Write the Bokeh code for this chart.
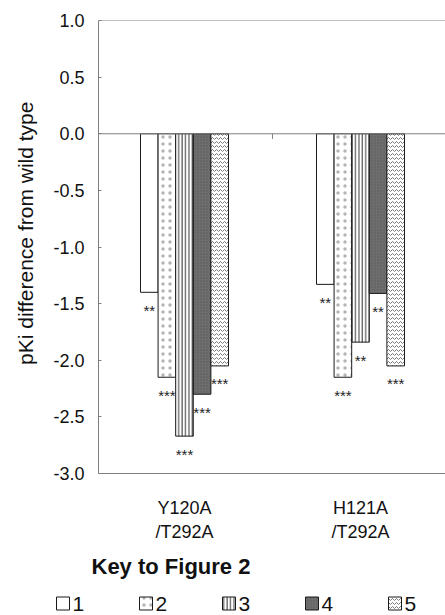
import math
from bokeh.plotting import figure
from bokeh.models import Range1d, FixedTicker, PrintfTickFormatter, Span, ColumnDataSource
from bokeh.layouts import column, row
from bokeh.embed import file_html
from bokeh.resources import INLINE
from bokeh.core.properties import value

# ---------------- data ----------------
categories = ["Y120A\n/T292A", "H121A\n/T292A"]
series_names = ["1", "2", "3", "4", "5"]
series1 = [-1.40, -1.33]
series2 = [-2.15, -2.15]
series3 = [-2.67, -1.84]
series4 = [-2.30, -1.41]
series5 = [-2.05, -2.05]
signif1 = ["**", "**"]
signif2 = ["***", "***"]
signif3 = ["***", "**"]
signif4 = ["***", "**"]
signif5 = ["***", "***"]
y_ticks = [-3.0, -2.5, -2.0, -1.5, -1.0, -0.5, 0.0, 0.5, 1.0]
y_title = "pKi difference from wild type"
key_title = "Key to Figure 2"

all_series = [series1, series2, series3, series4, series5]
all_signif = [signif1, signif2, signif3, signif4, signif5]

# ---------------- styles ----------------
FONT = "Liberation Sans"
GRID = "#808080"
TXT = "#111111"
styles = [
    dict(fill_color="white"),
    dict(fill_color="white", hatch_pattern="dot", hatch_color="#b4b4b4", hatch_scale=7, hatch_weight=1),
    dict(fill_color="white", hatch_pattern="vertical_line", hatch_color="#333333", hatch_scale=3.4, hatch_weight=1),
    dict(fill_color="#6e6e6e", hatch_pattern="dot", hatch_color="#5a5a5a", hatch_scale=3, hatch_weight=1),
    dict(fill_color="white", hatch_pattern="horizontal_wave", hatch_color="#7a7a7a", hatch_scale=4, hatch_weight=1),
]

W = 445
TW = 40          # width of the y-title strip
H1 = 545
H2 = 70
BAR_W = 0.1
n = len(all_series)

# ---------------- y title strip ----------------
t = figure(width=TW, height=H1, output_backend="svg", toolbar_location=None,
           x_range=Range1d(0, TW), y_range=Range1d(H1, 0), min_border=0)
t.axis.visible = False
t.grid.visible = False
t.outline_line_color = None
t.text(x=[25], y=[256], text=[y_title], angle=math.pi / 2, text_align="center",
       text_baseline="middle", text_font=value(FONT), text_font_size="21px", text_color=TXT)

# ---------------- main chart ----------------
p = figure(width=W - TW, height=H1, output_backend="svg", toolbar_location=None,
           x_range=Range1d(-0.4886, 1.483), y_range=Range1d(y_ticks[0], y_ticks[-1]),
           min_border_left=98 - TW, min_border_right=0, min_border_top=20, min_border_bottom=H1 - 473)
p.outline_line_color = None
p.xgrid.visible = False
p.ygrid.visible = False

# zero line and top border
p.add_layout(Span(location=0, dimension="width", line_color=GRID, line_width=1))
p.add_layout(Span(location=y_ticks[-1], dimension="width", line_color=GRID, line_width=1))

cat_x = list(range(len(categories)))
for i, (vals, sig, st) in enumerate(zip(all_series, all_signif, styles)):
    xs = [c + (i - (n - 1) / 2) * BAR_W for c in cat_x]
    src = ColumnDataSource(dict(x=xs, top=vals, sig=sig))
    p.vbar(x="x", top="top", bottom=0, width=BAR_W, source=src,
           line_color="#1a1a1a", line_width=1, **st)
    p.text(x="x", y="top", text="sig", source=src, text_align="center",
           text_baseline="middle", y_offset=18, text_font=value(FONT),
           text_font_size="15px", text_color="#222222")

# small category separator tick on the zero line
sep = [(cat_x[k] + cat_x[k + 1]) / 2 for k in range(len(cat_x) - 1)]
p.segment(x0=sep, y0=[0] * len(sep), x1=sep, y1=[-0.045] * len(sep), line_color=GRID, line_width=1)

# y axis
ya = p.yaxis[0]
ya.ticker = FixedTicker(ticks=y_ticks)
ya.formatter = PrintfTickFormatter(format="%.1f")
ya.major_tick_in = 3
ya.major_tick_out = 0
ya.minor_tick_line_color = None
ya.axis_line_color = GRID
ya.major_tick_line_color = GRID
ya.major_label_text_font = FONT
ya.major_label_text_font_size = "18px"
ya.major_label_text_color = TXT
ya.major_label_standoff = 14

# x axis
xa = p.xaxis[0]
xa.ticker = FixedTicker(ticks=cat_x)
xa.major_label_overrides = {c: lab for c, lab in zip(cat_x, categories)}
xa.major_tick_in = 0
xa.major_tick_out = 0
xa.minor_tick_line_color = None
xa.axis_line_color = GRID
xa.major_label_text_font = FONT
xa.major_label_text_font_size = "18px"
xa.major_label_text_color = TXT
xa.major_label_standoff = 24

# ---------------- key ----------------
k = figure(width=W, height=H2, output_backend="svg", toolbar_location=None,
           x_range=Range1d(0, W), y_range=Range1d(H2, 0), min_border=0)
k.axis.visible = False
k.grid.visible = False
k.outline_line_color = None

BOX = 13
STEP = 83
ITEM_Y = 58
for i, (name, st) in enumerate(zip(series_names, styles)):
    bx = 56 + BOX / 2 + i * STEP
    k.rect(x=[bx], y=[ITEM_Y], width=BOX, height=BOX, line_color="#1a1a1a", line_width=1, **st)
    k.text(x=[bx + BOX / 2 + 3], y=[ITEM_Y], text=[name], text_baseline="middle",
           text_font=value(FONT), text_font_size="21px", text_color=TXT)
k.text(x=[91], y=[21], text=[key_title], text_baseline="middle", text_font=value(FONT),
       text_font_size="22px", text_font_style="bold", text_color=TXT)

layout = column(row(t, p, spacing=0), k, spacing=0)
open("out.html", "w").write(file_html(layout, INLINE))
